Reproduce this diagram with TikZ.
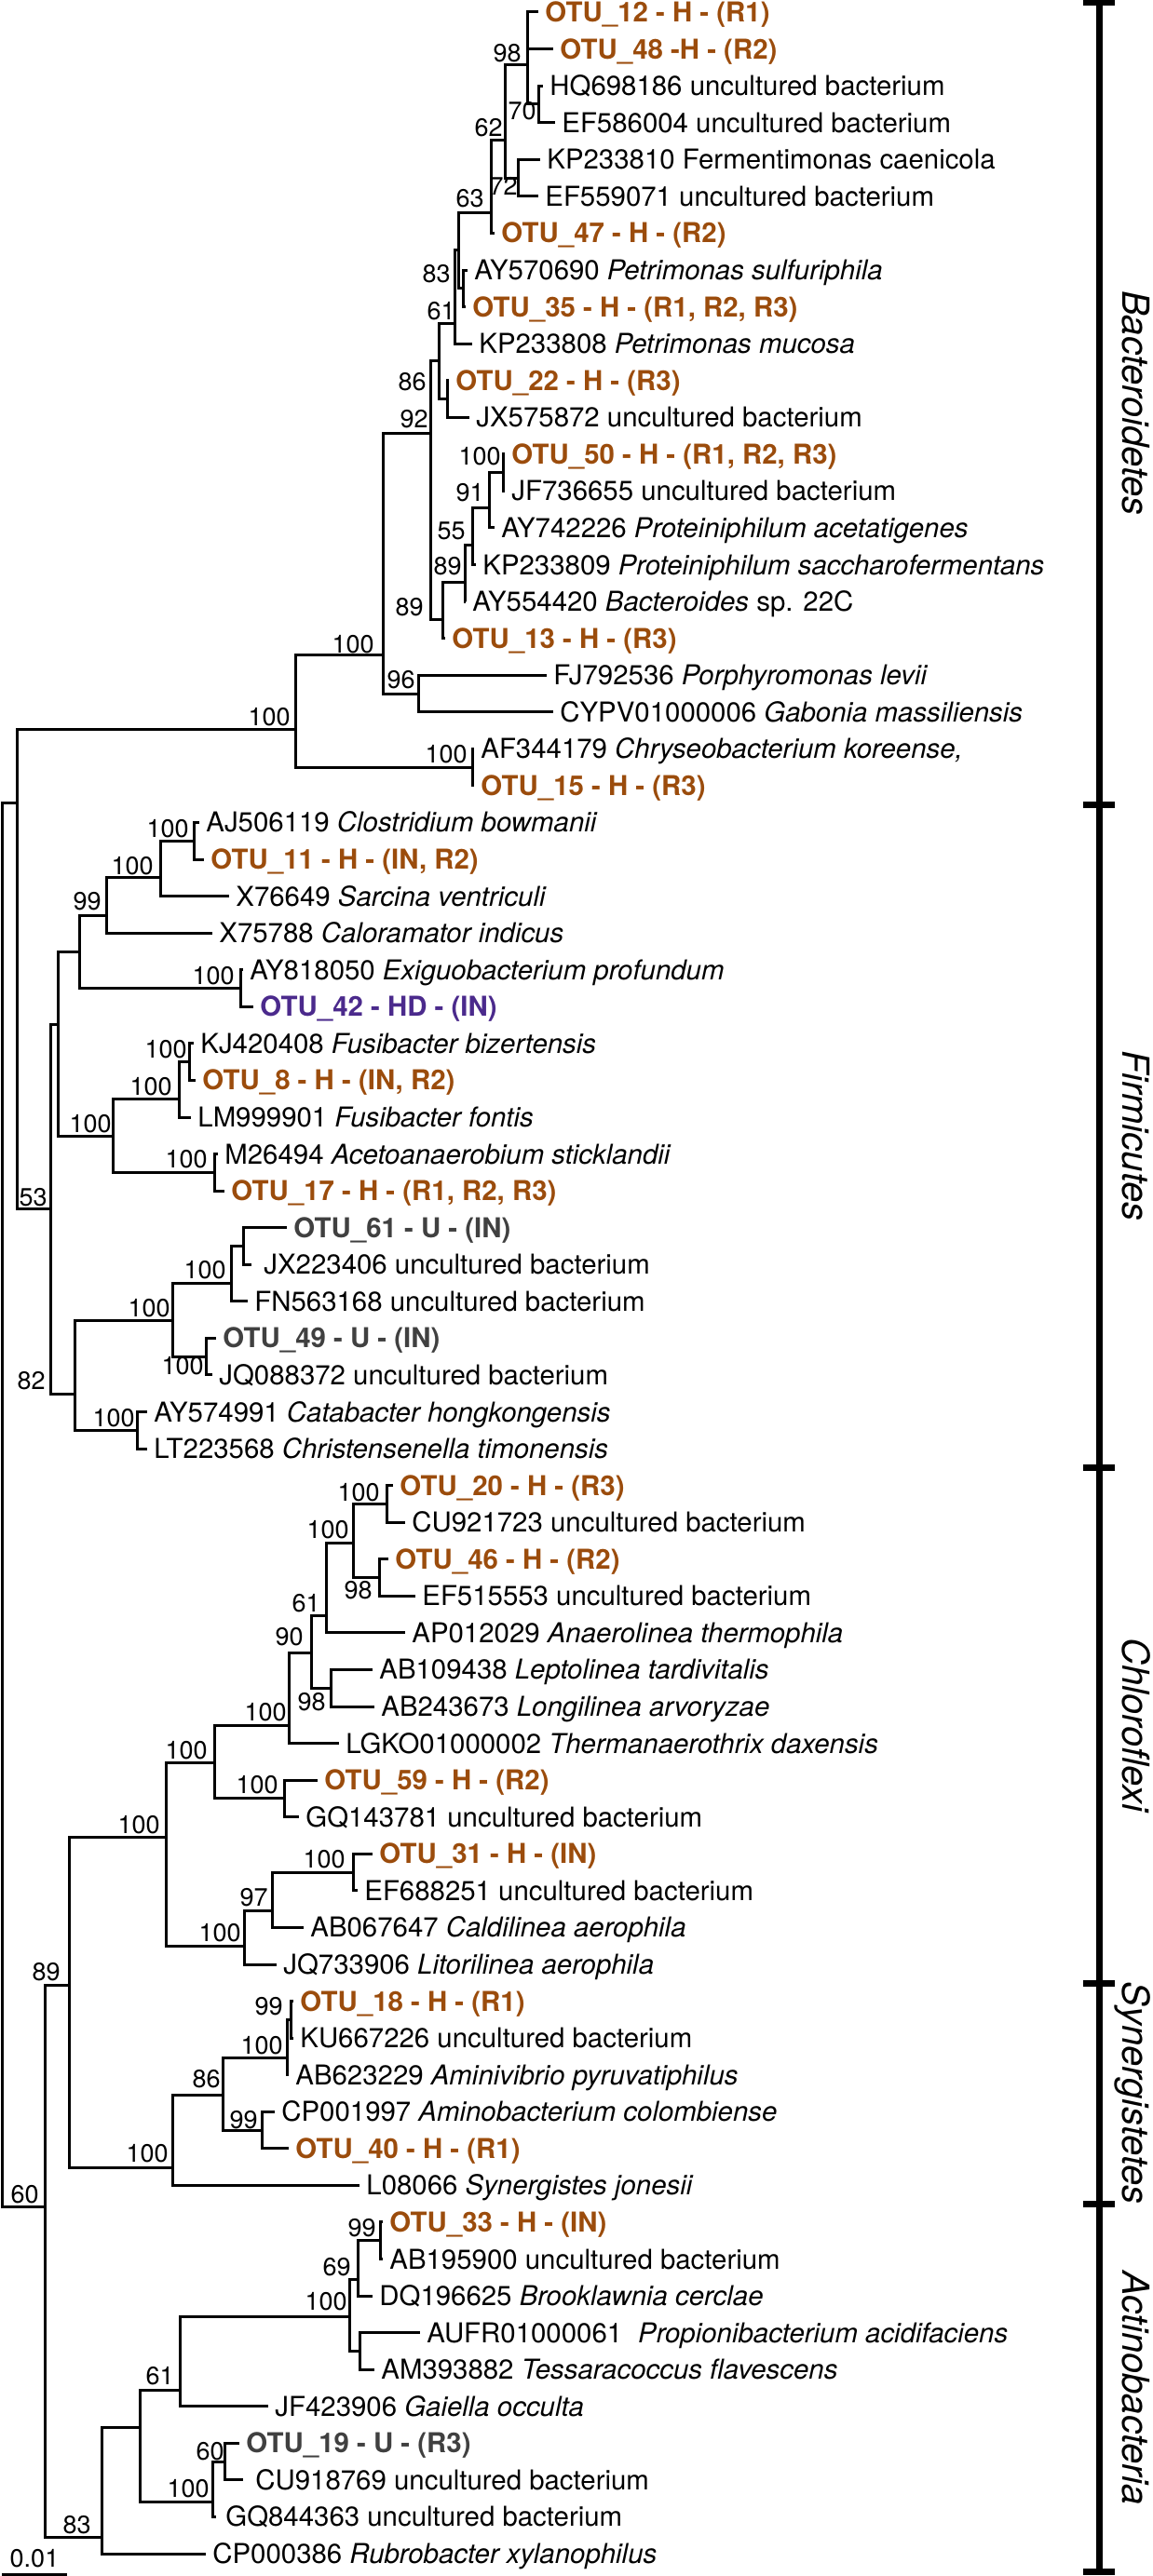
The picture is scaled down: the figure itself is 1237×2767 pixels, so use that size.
\documentclass[tikz,border=0pt]{standalone}
\usepackage{fontspec}
\setmainfont{TeX Gyre Heros}
\usepackage{xcolor}
\usepackage{tikz}
\definecolor{otubrown}{RGB}{155,76,12}
\definecolor{otupurple}{RGB}{75,42,140}
\definecolor{otugray}{RGB}{64,64,64}

\begin{document}
\begin{tikzpicture}[x=0.5pt, y=-0.5pt,
    taxon/.style={anchor=west, inner xsep=3.5pt, inner ysep=0pt, text height=10.5pt, text depth=0pt, font=\fontsize{14.7}{17}\selectfont},
    otu/.style={taxon, font=\fontsize{14.7}{17}\selectfont\bfseries, text=otubrown},
    otuhd/.style={otu, text=otupurple},
    otuu/.style={otu, text=otugray},
    bootstrap/.style={anchor=east, inner sep=0pt, text height=9.7pt, text depth=0pt, font=\fontsize{13.5}{16}\selectfont},
    clade/.style={line width=1.5pt, line join=miter},
    phylum/.style={rotate=-90, anchor=base, inner sep=0pt, font=\fontsize{20}{24}\selectfont\itshape},
    phybar/.style={line width=3.5pt}]

    \useasboundingbox (0,0) rectangle (1237,2767);

    \node[otu] (otu12) at (578,13.0) {OTU\_12 - H - (R1)};
    \node[otu] (otu48) at (594,52.6) {OTU\_48 -H - (R2)};
    \node[taxon] (HQ698186) at (583,92.1) {HQ698186 uncultured bacterium};
    \node[taxon] (EF586004) at (596,131.7) {EF586004 uncultured bacterium};
    \node[taxon] (KP233810) at (580,171.3) {KP233810 Fermentimonas caenicola};
    \node[taxon] (EF559071) at (578,210.8) {EF559071 uncultured bacterium};
    \node[otu] (otu47) at (531,250.4) {OTU\_47 - H - (R2)};
    \node[taxon] (AY570690) at (502,290.0) {AY570690 \textit{Petrimonas sulfuriphila}};
    \node[otu] (otu35) at (500,329.5) {OTU\_35 - H - (R1, R2, R3)};
    \node[taxon] (KP233808) at (507,369.1) {KP233808 \textit{Petrimonas mucosa}};
    \node[otu] (otu22) at (482,408.7) {OTU\_22 - H - (R3)};
    \node[taxon] (JX575872) at (504,448.2) {JX575872 uncultured bacterium};
    \node[otu] (otu50) at (542,487.8) {OTU\_50 - H - (R1, R2, R3)};
    \node[taxon] (JF736655) at (542,527.3) {JF736655 uncultured bacterium};
    \node[taxon] (AY742226) at (531,566.9) {AY742226 \textit{Proteiniphilum acetatigenes}};
    \node[taxon] (KP233809) at (511,606.5) {KP233809 \textit{Proteiniphilum saccharofermentans}};
    \node[taxon] (AY554420) at (500,646.0) {AY554420 \textit{Bacteroides} sp. 22C};
    \node[otu] (otu13) at (478,685.6) {OTU\_13 - H - (R3)};
    \node[taxon] (FJ792536) at (587,725.2) {FJ792536 \textit{Porphyromonas levii}};
    \node[taxon] (CYPV01000006) at (594,764.7) {CYPV01000006 \textit{Gabonia massiliensis}};
    \node[taxon] (AF344179) at (509,804.3) {AF344179 \textit{Chryseobacterium koreense,}};
    \node[otu] (otu15) at (509,843.9) {OTU\_15 - H - (R3)};
    \node[taxon] (AJ506119) at (214,883.4) {AJ506119 \textit{Clostridium bowmanii}};
    \node[otu] (otu11) at (219,923.0) {OTU\_11 - H - (IN, R2)};
    \node[taxon] (X76649) at (246,962.6) {X76649 \textit{Sarcina ventriculi}};
    \node[taxon] (X75788) at (228,1002.1) {X75788 \textit{Caloramator indicus}};
    \node[taxon] (AY818050) at (261,1041.7) {AY818050 \textit{Exiguobacterium profundum}};
    \node[otuhd] (otu42) at (272,1081.3) {OTU\_42 - HD - (IN)};
    \node[taxon] (KJ420408) at (208,1120.8) {KJ420408 \textit{Fusibacter bizertensis}};
    \node[otu] (otu8) at (210,1160.4) {OTU\_8 - H - (IN, R2)};
    \node[taxon] (LM999901) at (205,1200.0) {LM999901 \textit{Fusibacter fontis}};
    \node[taxon] (M26494) at (234,1239.5) {M26494 \textit{Acetoanaerobium sticklandii}};
    \node[otu] (otu17) at (241,1279.1) {OTU\_17 - H - (R1, R2, R3)};
    \node[otuu] (otu61) at (308,1318.6) {OTU\_61 - U - (IN)};
    \node[taxon, inner xsep=6.5pt] (JX223406) at (270,1358.2) {JX223406 uncultured bacterium};
    \node[taxon] (FN563168) at (266,1397.8) {FN563168 uncultured bacterium};
    \node[otuu] (otu49) at (232,1437.3) {OTU\_49 - U - (IN)};
    \node[taxon] (JQ088372) at (228,1476.9) {JQ088372 uncultured bacterium};
    \node[taxon] (AY574991) at (158,1516.5) {AY574991 \textit{Catabacter hongkongensis}};
    \node[taxon] (LT223568) at (158,1556.0) {LT223568 \textit{Christensenella timonensis}};
    \node[otu] (otu20) at (422,1595.6) {OTU\_20 - H - (R3)};
    \node[taxon] (CU921723) at (435,1635.2) {CU921723 uncultured bacterium};
    \node[otu] (otu46) at (417,1674.7) {OTU\_46 - H - (R2)};
    \node[taxon] (EF515553) at (446,1714.3) {EF515553 uncultured bacterium};
    \node[taxon] (AP012029) at (435,1753.9) {AP012029 \textit{Anaerolinea thermophila}};
    \node[taxon] (AB109438) at (400,1793.4) {AB109438 \textit{Leptolinea tardivitalis}};
    \node[taxon] (AB243673) at (402,1833.0) {AB243673 \textit{Longilinea arvoryzae}};
    \node[taxon] (LGKO01000002) at (364,1872.6) {LGKO01000002 \textit{Thermanaerothrix daxensis}};
    \node[otu] (otu59) at (341,1912.1) {OTU\_59 - H - (R2)};
    \node[taxon] (GQ143781) at (321,1951.7) {GQ143781 uncultured bacterium};
    \node[otu] (otu31) at (400,1991.3) {OTU\_31 - H - (IN)};
    \node[taxon] (EF688251) at (384,2030.8) {EF688251 uncultured bacterium};
    \node[taxon] (AB067647) at (326,2070.4) {AB067647 \textit{Caldilinea aerophila}};
    \node[taxon] (JQ733906) at (297,2110.0) {JQ733906 \textit{Litorilinea aerophila}};
    \node[otu] (otu18) at (315,2149.5) {OTU\_18 - H - (R1)};
    \node[taxon] (KU667226) at (315,2189.1) {KU667226 uncultured bacterium};
    \node[taxon] (AB623229) at (310,2228.6) {AB623229 \textit{Aminivibrio pyruvatiphilus}};
    \node[taxon] (CP001997) at (295,2268.2) {CP001997 \textit{Aminobacterium colombiense}};
    \node[otu] (otu40) at (310,2307.8) {OTU\_40 - H - (R1)};
    \node[taxon] (L08066) at (386,2347.3) {L08066 \textit{Synergistes jonesii}};
    \node[otu] (otu33) at (411,2386.9) {OTU\_33 - H - (IN)};
    \node[taxon] (AB195900) at (411,2426.5) {AB195900 uncultured bacterium};
    \node[taxon] (DQ196625) at (400,2466.0) {DQ196625 \textit{Brooklawnia cerclae}};
    \node[taxon] (AUFR01000061) at (451,2505.6) {AUFR01000061\hspace{0.3em} \textit{Propionibacterium acidifaciens}};
    \node[taxon] (AM393882) at (402,2545.2) {AM393882 \textit{Tessaracoccus flavescens}};
    \node[taxon] (JF423906) at (288,2584.7) {JF423906 \textit{Gaiella occulta}};
    \node[otuu] (otu19) at (257,2624.3) {OTU\_19 - U - (R3)};
    \node[taxon, inner xsep=6.5pt] (CU918769) at (261,2663.9) {CU918769 uncultured bacterium};
    \node[taxon, inner xsep=5pt] (GQ844363) at (232,2703.4) {GQ844363 uncultured bacterium};
    \node[taxon] (CP000386) at (221,2743.0) {CP000386 \textit{Rubrobacter xylanophilus}};

    \coordinate (u1) at (566,32.8);
    \coordinate (n98a) at (566,70);
    \coordinate (n70a) at (578,111.9);
    \coordinate (n72a) at (556,191);
    \coordinate (n62a) at (542,150);
    \coordinate (n63a) at (527,228);
    \coordinate (n83a) at (497,309.8);
    \coordinate (u2) at (492,268);
    \coordinate (n61a) at (488,347);
    \coordinate (n86a) at (480,428.5);
    \coordinate (u3) at (471,387);
    \coordinate (n92a) at (462,465);
    \coordinate (n100a) at (540,507.6);
    \coordinate (n91a) at (525,545);
    \coordinate (n55a) at (507,585);
    \coordinate (n89a) at (499,625);
    \coordinate (n89b) at (475,665);
    \coordinate (n96a) at (449,745);
    \coordinate (n100b) at (411,703);
    \coordinate (n100c) at (507,824.1);
    \coordinate (n100d) at (317,783);
    \coordinate (n100e) at (208,903.2);
    \coordinate (n100f) at (172,942);
    \coordinate (n99a) at (114,983);
    \coordinate (n100g) at (258,1061.5);
    \coordinate (u4) at (85,1022);
    \coordinate (n100h) at (203,1140.6);
    \coordinate (n100i) at (192,1180);
    \coordinate (n100j) at (230,1259.3);
    \coordinate (n100k) at (121,1220);
    \coordinate (u5) at (62,1100);
    \coordinate (u6) at (261,1338.4);
    \coordinate (n100l) at (248,1378);
    \coordinate (n100m) at (221,1457.1);
    \coordinate (n100n) at (185,1418);
    \coordinate (n100o) at (147,1536.3);
    \coordinate (n82a) at (80,1497);
    \coordinate (n53a) at (54,1298);
    \coordinate (u7) at (18,862);
    \coordinate (n100p) at (415,1615.4);
    \coordinate (n98b) at (407,1694.5);
    \coordinate (n100q) at (379,1657);
    \coordinate (n61b) at (350,1735);
    \coordinate (n98c) at (355,1813.2);
    \coordinate (n90a) at (334,1775);
    \coordinate (n100r) at (310,1853);
    \coordinate (n100s) at (305,1931.9);
    \coordinate (n100t) at (230,1893);
    \coordinate (n100u) at (379,2011.1);
    \coordinate (n97a) at (292,2052);
    \coordinate (n100v) at (262,2090);
    \coordinate (n100w) at (178,1973);
    \coordinate (n99b) at (312,2169.3);
    \coordinate (n100x) at (308,2210);
    \coordinate (n99c) at (281,2288);
    \coordinate (n86b) at (239,2250);
    \coordinate (n100y) at (185,2328);
    \coordinate (n89c) at (74,2132);
    \coordinate (n99d) at (408,2406.7);
    \coordinate (n69a) at (384,2448);
    \coordinate (u8) at (386,2525.4);
    \coordinate (n100z) at (375,2488);
    \coordinate (n61c) at (193,2567);
    \coordinate (n60a) at (241,2644.1);
    \coordinate (n100aa) at (228,2687);
    \coordinate (u9) at (150,2607);
    \coordinate (n83b) at (109,2725);
    \coordinate (n60b) at (48,2370);
    \coordinate (root) at (2,1616);

    \node[bootstrap] (l98a) at (560,57) {98};
    \node[bootstrap] (l70a) at (576,119) {70};
    \node[bootstrap] (l62a) at (540,137) {62};
    \node[bootstrap] (l72a) at (556,200) {72};
    \node[bootstrap] (l63a) at (520,213) {63};
    \node[bootstrap] (l83a) at (484,294) {83};
    \node[bootstrap] (l61a) at (489,334) {61};
    \node[bootstrap] (l86a) at (458,410) {86};
    \node[bootstrap] (l92a) at (460,450) {92};
    \node[bootstrap] (l100a) at (538,490) {100};
    \node[bootstrap] (l91a) at (520,529) {91};
    \node[bootstrap] (l55a) at (500,570) {55};
    \node[bootstrap] (l89a) at (496,608) {89};
    \node[bootstrap] (l89b) at (455,652) {89};
    \node[bootstrap] (l100b) at (402,692) {100};
    \node[bootstrap] (l96a) at (446,730) {96};
    \node[bootstrap] (l100d) at (312,770) {100};
    \node[bootstrap] (l100c) at (502,810) {100};
    \node[bootstrap] (l100e) at (203,890) {100};
    \node[bootstrap] (l100f) at (165,930) {100};
    \node[bootstrap] (l99a) at (109,968) {99};
    \node[bootstrap] (l100g) at (252,1048) {100};
    \node[bootstrap] (l100h) at (201,1127) {100};
    \node[bootstrap] (l100i) at (185,1167) {100};
    \node[bootstrap] (l100j) at (223,1245) {100};
    \node[bootstrap] (l100k) at (120,1207) {100};
    \node[bootstrap] (l53a) at (51,1286) {53};
    \node[bootstrap] (l100l) at (243,1364) {100};
    \node[bootstrap] (l100n) at (183,1405) {100};
    \node[bootstrap] (l100m) at (219,1467) {100};
    \node[bootstrap] (l100o) at (145,1523) {100};
    \node[bootstrap] (l82a) at (49,1483) {82};
    \node[bootstrap] (l100p) at (408,1603) {100};
    \node[bootstrap] (l98b) at (400,1708) {98};
    \node[bootstrap] (l100q) at (375,1643) {100};
    \node[bootstrap] (l61b) at (344,1722) {61};
    \node[bootstrap] (l98c) at (350,1828) {98};
    \node[bootstrap] (l90a) at (326,1758) {90};
    \node[bootstrap] (l100r) at (308,1839) {100};
    \node[bootstrap] (l100s) at (299,1917) {100};
    \node[bootstrap] (l100t) at (223,1880) {100};
    \node[bootstrap] (l100u) at (371,1997) {100};
    \node[bootstrap] (l97a) at (288,2038) {97};
    \node[bootstrap] (l100v) at (259,2076) {100};
    \node[bootstrap] (l100w) at (172,1960) {100};
    \node[bootstrap] (l89c) at (65,2118) {89};
    \node[bootstrap] (l99b) at (304,2155) {99};
    \node[bootstrap] (l100x) at (304,2197) {100};
    \node[bootstrap] (l86b) at (237,2233) {86};
    \node[bootstrap] (l99c) at (277,2277) {99};
    \node[bootstrap] (l100y) at (181,2313) {100};
    \node[bootstrap] (l60b) at (42,2357) {60};
    \node[bootstrap] (l99d) at (404,2393) {99};
    \node[bootstrap] (l69a) at (377,2435) {69};
    \node[bootstrap] (l100z) at (373,2472) {100};
    \node[bootstrap] (l61c) at (187,2552) {61};
    \node[bootstrap] (l60a) at (241,2633) {60};
    \node[bootstrap] (l100aa) at (225,2673) {100};
    \node[bootstrap] (l83b) at (98,2712) {83};

    \draw[clade] (u1) |- (otu12) (u1) |- (otu48);
    \draw[clade] (n70a) |- (HQ698186) (n70a) |- (EF586004);
    \draw[clade] (n98a) |- (u1) (n98a) |- (n70a);
    \draw[clade] (n72a) |- (KP233810) (n72a) |- (EF559071);
    \draw[clade] (n62a) |- (n98a) (n62a) |- (n72a);
    \draw[clade] (n63a) |- (n62a) (n63a) |- (otu47);
    \draw[clade] (n83a) |- (AY570690) (n83a) |- (otu35);
    \draw[clade] (u2) |- (n63a) (u2) |- (n83a);
    \draw[clade] (n61a) |- (u2) (n61a) |- (KP233808);
    \draw[clade] (n86a) |- (otu22) (n86a) |- (JX575872);
    \draw[clade] (u3) |- (n61a) (u3) |- (n86a);
    \draw[clade] (n100a) |- (otu50) (n100a) |- (JF736655);
    \draw[clade] (n91a) |- (n100a) (n91a) |- (AY742226);
    \draw[clade] (n55a) |- (n91a) (n55a) |- (KP233809);
    \draw[clade] (n89a) |- (n55a) (n89a) |- (AY554420);
    \draw[clade] (n89b) |- (n89a) (n89b) |- (otu13);
    \draw[clade] (n92a) |- (u3) (n92a) |- (n89b);
    \draw[clade] (n96a) |- (FJ792536) (n96a) |- (CYPV01000006);
    \draw[clade] (n100b) |- (n92a) (n100b) |- (n96a);
    \draw[clade] (n100c) |- (AF344179) (n100c) |- (otu15);
    \draw[clade] (n100d) |- (n100b) (n100d) |- (n100c);
    \draw[clade] (n100e) |- (AJ506119) (n100e) |- (otu11);
    \draw[clade] (n100f) |- (n100e) (n100f) |- (X76649);
    \draw[clade] (n99a) |- (n100f) (n99a) |- (X75788);
    \draw[clade] (n100g) |- (AY818050) (n100g) |- (otu42);
    \draw[clade] (u4) |- (n99a) (u4) |- (n100g);
    \draw[clade] (n100h) |- (KJ420408) (n100h) |- (otu8);
    \draw[clade] (n100i) |- (n100h) (n100i) |- (LM999901);
    \draw[clade] (n100j) |- (M26494) (n100j) |- (otu17);
    \draw[clade] (n100k) |- (n100i) (n100k) |- (n100j);
    \draw[clade] (u5) |- (u4) (u5) |- (n100k);
    \draw[clade] (u6) |- (otu61) (u6) |- (JX223406);
    \draw[clade] (n100l) |- (u6) (n100l) |- (FN563168);
    \draw[clade] (n100m) |- (otu49) (n100m) |- (JQ088372);
    \draw[clade] (n100n) |- (n100l) (n100n) |- (n100m);
    \draw[clade] (n100o) |- (AY574991) (n100o) |- (LT223568);
    \draw[clade] (n82a) |- (n100n) (n82a) |- (n100o);
    \draw[clade] (n53a) |- (u5) (n53a) |- (n82a);
    \draw[clade] (u7) |- (n100d) (u7) |- (n53a);
    \draw[clade] (n100p) |- (otu20) (n100p) |- (CU921723);
    \draw[clade] (n98b) |- (otu46) (n98b) |- (EF515553);
    \draw[clade] (n100q) |- (n100p) (n100q) |- (n98b);
    \draw[clade] (n61b) |- (n100q) (n61b) |- (AP012029);
    \draw[clade] (n98c) |- (AB109438) (n98c) |- (AB243673);
    \draw[clade] (n90a) |- (n61b) (n90a) |- (n98c);
    \draw[clade] (n100r) |- (n90a) (n100r) |- (LGKO01000002);
    \draw[clade] (n100s) |- (otu59) (n100s) |- (GQ143781);
    \draw[clade] (n100t) |- (n100r) (n100t) |- (n100s);
    \draw[clade] (n100u) |- (otu31) (n100u) |- (EF688251);
    \draw[clade] (n97a) |- (n100u) (n97a) |- (AB067647);
    \draw[clade] (n100v) |- (n97a) (n100v) |- (JQ733906);
    \draw[clade] (n100w) |- (n100t) (n100w) |- (n100v);
    \draw[clade] (n99b) |- (otu18) (n99b) |- (KU667226);
    \draw[clade] (n100x) |- (n99b) (n100x) |- (AB623229);
    \draw[clade] (n99c) |- (CP001997) (n99c) |- (otu40);
    \draw[clade] (n86b) |- (n100x) (n86b) |- (n99c);
    \draw[clade] (n100y) |- (n86b) (n100y) |- (L08066);
    \draw[clade] (n89c) |- (n100w) (n89c) |- (n100y);
    \draw[clade] (n99d) |- (otu33) (n99d) |- (AB195900);
    \draw[clade] (n69a) |- (n99d) (n69a) |- (DQ196625);
    \draw[clade] (u8) |- (AUFR01000061) (u8) |- (AM393882);
    \draw[clade] (n100z) |- (n69a) (n100z) |- (u8);
    \draw[clade] (n61c) |- (n100z) (n61c) |- (JF423906);
    \draw[clade] (n60a) |- (otu19) (n60a) |- (CU918769);
    \draw[clade] (n100aa) |- (n60a) (n100aa) |- (GQ844363);
    \draw[clade] (u9) |- (n61c) (u9) |- (n100aa);
    \draw[clade] (n83b) |- (u9) (n83b) |- (CP000386);
    \draw[clade] (n60b) |- (n89c) (n60b) |- (n83b);
    \draw[clade] (root) |- (u7) (root) |- (n60b);

    \coordinate (s0) at (2,2765);
    \coordinate (s1) at (72,2765);
    \draw[clade] (s0) -- (s1);
    \node[bootstrap, anchor=south] (scale) at (37,2758) {0.01};

    \coordinate (p0) at (1180,3);
    \coordinate (p1) at (1180,864);
    \coordinate (p2) at (1180,1576);
    \coordinate (p3) at (1180,2130);
    \coordinate (p4) at (1180,2367);
    \coordinate (p5) at (1180,2762);
    \draw[phybar] (p0) -- (p5);
    \foreach \p in {p0,p1,p2,p3,p4,p5}
        \draw[phybar] ([xshift=-8.5pt]\p) -- ([xshift=8.5pt]\p);

    \node[phylum] (bacteroidetes) at (1205,433) {Bacteroidetes};
    \node[phylum] (firmicutes) at (1205,1220) {Firmicutes};
    \node[phylum] (chloroflexi) at (1205,1853) {Chloroflexi};
    \node[phylum] (synergistetes) at (1205,2248) {Synergistetes};
    \node[phylum] (actinobacteria) at (1205,2565) {Actinobacteria};
\end{tikzpicture}
\end{document}
